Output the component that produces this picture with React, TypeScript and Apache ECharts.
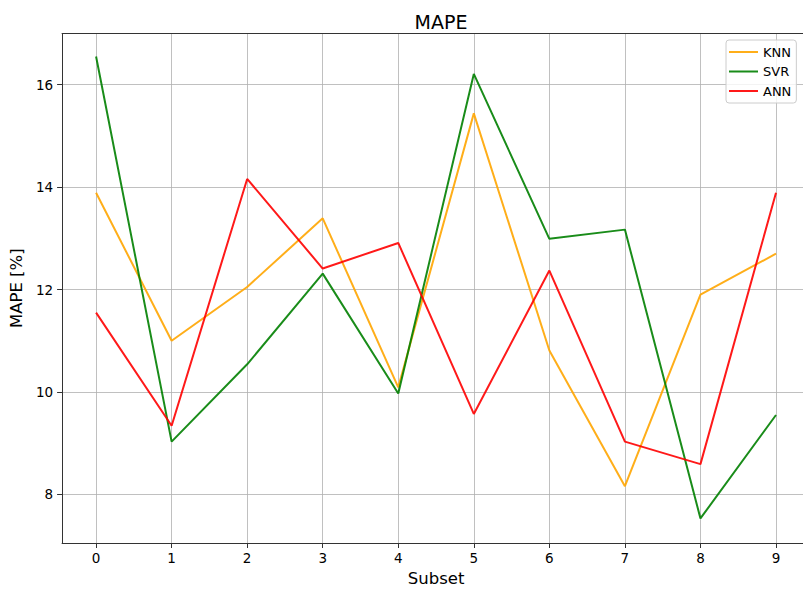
import React, { useEffect, useRef } from "react";
import * as echarts from "echarts";

const subsets = [0, 1, 2, 3, 4, 5, 6, 7, 8, 9];
const knn = [13.89, 11.0, 12.05, 13.39, 10.09, 15.44, 10.81, 8.16, 11.9, 12.7];
const svr = [16.55, 9.03, 10.54, 12.31, 9.97, 16.21, 12.99, 13.17, 7.53, 9.55];
const ann = [11.55, 9.34, 14.16, 12.41, 12.91, 9.57, 12.37, 9.03, 8.59, 13.89];
const xTicks = [0, 1, 2, 3, 4, 5, 6, 7, 8, 9];
const yTicks = [8, 10, 12, 14, 16];

const FONT = "DejaVu Sans";

export default function App() {
  const ref = useRef<HTMLDivElement>(null);
  useEffect(() => {
    if (!ref.current) return;
    const chart = echarts.init(ref.current, null, { renderer: "svg" });
    const mk = (name: string, vals: number[], color: string) => ({
      name,
      type: "line",
      xAxisIndex: 0,
      data: subsets.map((s, i) => [s, vals[i]]),
      symbol: "none",
      lineStyle: { color, width: 2, opacity: 0.9 },
      itemStyle: { color, opacity: 0.9 },
      emphasis: { disabled: true },
    });
    const xMin = -0.45;
    const xMax = 9.45;
    chart.setOption({
      animation: false,
      backgroundColor: "#ffffff",
      textStyle: { fontFamily: FONT },
      title: {
        text: "MAPE",
        left: 436,
        top: 7,
        textAlign: "center",
        textStyle: { fontFamily: FONT, fontSize: 19, fontWeight: "normal", color: "#000" },
      },
      legend: {
        orient: "vertical",
        left: 726,
        top: 40,
        padding: [5, 5, 5, 3],
        icon: "rect",
        itemWidth: 29,
        itemHeight: 2,
        itemGap: 5.5,
        backgroundColor: "rgba(255,255,255,0.8)",
        borderColor: "#cccccc",
        borderWidth: 1,
        borderRadius: 3,
        data: ["KNN", "SVR", "ANN"],
        textStyle: { fontFamily: FONT, fontSize: 13, lineHeight: 14, color: "#000" },
        itemTextGap: 10,
      },
      grid: {
        left: 61,
        top: 33.5,
        right: 0,
        height: 511,
        show: false,
        containLabel: false,
      },
      xAxis: [
        {
          type: "value",
          min: xMin,
          max: xMax,
          name: "Subset",
          nameLocation: "middle",
          nameGap: 27,
          nameTextStyle: { fontFamily: FONT, fontSize: 16.5, color: "#000" },
          axisLine: { show: true, onZero: false, lineStyle: { color: "#333", width: 1 } },
          axisTick: { show: true, length: 5, customValues: xTicks, lineStyle: { color: "#333", width: 1 } },
          axisLabel: { customValues: xTicks, fontFamily: FONT, fontSize: 13.5, color: "#000", margin: 8 },
          splitLine: { show: true, lineStyle: { color: "#b0b0b0", width: 0.8 } },
        },
        {
          type: "value",
          position: "top",
          min: xMin,
          max: xMax,
          axisLine: { show: true, onZero: false, lineStyle: { color: "#333", width: 1 } },
          axisTick: { show: false },
          axisLabel: { show: false },
          splitLine: { show: false },
        },
      ],
      yAxis: {
        type: "value",
        min: 7.05,
        max: 17.0,
        name: "MAPE [%]",
        nameLocation: "middle",
        nameGap: 29,
        nameTextStyle: { fontFamily: FONT, fontSize: 16.5, color: "#000" },
        axisLine: { show: true, onZero: false, lineStyle: { color: "#333", width: 1 } },
        axisTick: { show: true, length: 5, customValues: yTicks, lineStyle: { color: "#333", width: 1 } },
        axisLabel: { customValues: yTicks, fontFamily: FONT, fontSize: 13.5, color: "#000", margin: 9 },
        splitLine: { show: true, lineStyle: { color: "#b0b0b0", width: 0.8 } },
      },
      series: [mk("KNN", knn, "#FFA500"), mk("SVR", svr, "#008000"), mk("ANN", ann, "#FF0000")],
    });
    return () => chart.dispose();
  }, []);
  return (
    <div
      style={{
        position: "fixed",
        left: 0,
        top: 0,
        width: 803,
        height: 592,
        overflow: "hidden",
        background: "#fff",
      }}
    >
      <div ref={ref} style={{ width: 810, height: 592 }} />
    </div>
  );
}
